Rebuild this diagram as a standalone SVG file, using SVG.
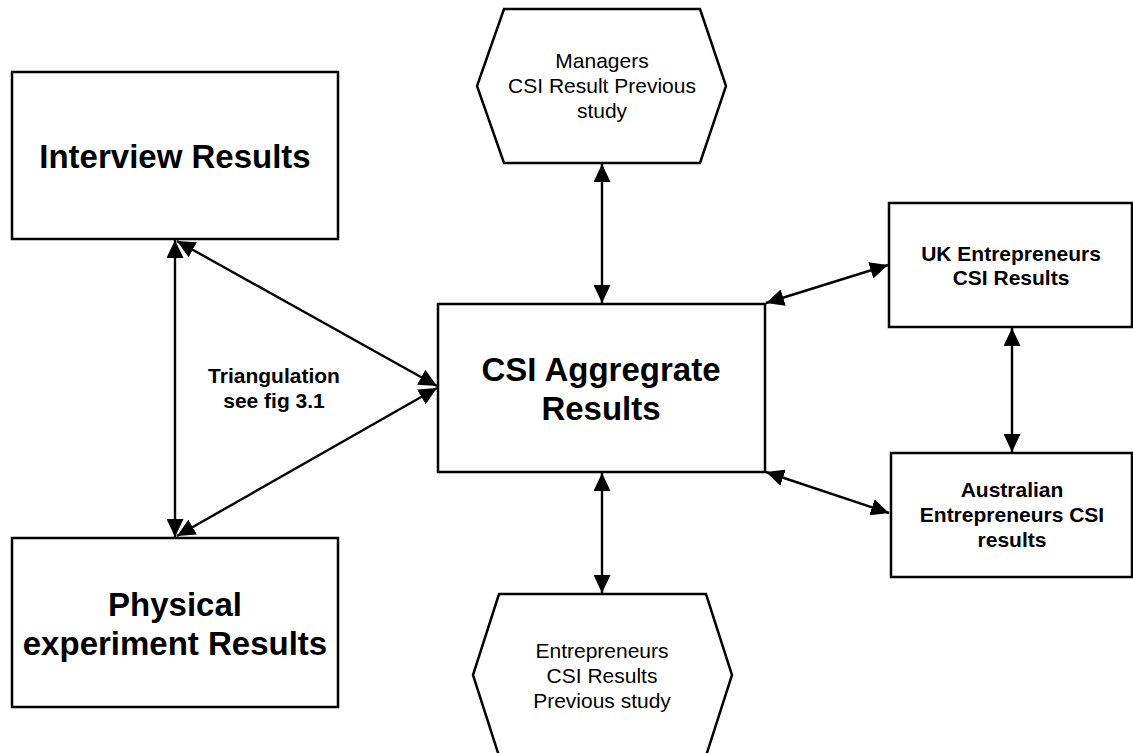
<svg xmlns="http://www.w3.org/2000/svg" width="1133" height="753" viewBox="0 0 1133 753">
  <style>
    .box { fill: #ffffff; stroke: #000000; stroke-width: 2.5; }
    .edge { fill: none; stroke: #000000; stroke-width: 2.4; marker-start: url(#head); marker-end: url(#head); }
    .big { font-family: "Liberation Sans", Arial, sans-serif; font-weight: bold; font-size: 33px; text-anchor: middle; fill: #000; }
    .mid { font-family: "Liberation Sans", Arial, sans-serif; font-weight: bold; font-size: 21px; text-anchor: middle; fill: #000; }
    .plain { font-family: "Liberation Sans", Arial, sans-serif; font-size: 21px; text-anchor: middle; fill: #000; }
  </style>
  <defs>
    <marker id="head" viewBox="0 0 18 17" refX="18" refY="8.5" markerWidth="18" markerHeight="17" markerUnits="userSpaceOnUse" orient="auto-start-reverse">
      <path d="M0,0 L18,8.5 L0,17 Z" fill="#000"/>
    </marker>
  </defs>
  <rect width="1133" height="753" fill="#ffffff"/>

  <g id="connectors">
    <line class="edge" x1="175" y1="240" x2="175" y2="537"/>
    <line class="edge" x1="177" y1="241" x2="437" y2="386"/>
    <line class="edge" x1="177" y1="536" x2="437" y2="388"/>
    <line class="edge" x1="602" y1="164" x2="602" y2="303"/>
    <line class="edge" x1="602" y1="473" x2="602" y2="593"/>
    <line class="edge" x1="766" y1="303" x2="888" y2="265"/>
    <line class="edge" x1="766" y1="472" x2="889" y2="513"/>
    <line class="edge" x1="1012" y1="328" x2="1012" y2="452"/>
  </g>

  <g id="interview">
    <rect class="box" x="12" y="72" width="326" height="167"/>
    <text class="big" x="175" y="168">Interview Results</text>
  </g>

  <g id="physical">
    <rect class="box" x="12" y="538" width="326" height="169"/>
    <text class="big" x="175" y="616">Physical</text>
    <text class="big" x="175" y="655">experiment Results</text>
  </g>

  <g id="triangulation">
    <text class="mid" x="274" y="383">Triangulation</text>
    <text class="mid" x="274" y="408">see fig 3.1</text>
  </g>

  <g id="aggregate">
    <rect class="box" x="438" y="304" width="327" height="168"/>
    <text class="big" x="601" y="381">CSI Aggregrate</text>
    <text class="big" x="601" y="420">Results</text>
  </g>

  <g id="managers">
    <polygon class="box" points="504,9 700,9 726,86 700,163 504,163 477,86"/>
    <text class="plain" x="602" y="68">Managers</text>
    <text class="plain" x="602" y="93">CSI Result Previous</text>
    <text class="plain" x="602" y="118">study</text>
  </g>

  <g id="entrepreneurs">
    <polygon class="box" points="499,594 706,594 732,675 706,756 499,756 473,675"/>
    <text class="plain" x="602" y="658">Entrepreneurs</text>
    <text class="plain" x="602" y="683">CSI Results</text>
    <text class="plain" x="602" y="708">Previous study</text>
  </g>

  <g id="uk">
    <rect class="box" x="889" y="203" width="243" height="124"/>
    <text class="mid" x="1011" y="261">UK Entrepreneurs</text>
    <text class="mid" x="1011" y="285">CSI Results</text>
  </g>

  <g id="australian">
    <rect class="box" x="891" y="453" width="241" height="124"/>
    <text class="mid" x="1012" y="497">Australian</text>
    <text class="mid" x="1012" y="522">Entrepreneurs CSI</text>
    <text class="mid" x="1012" y="547">results</text>
  </g>
</svg>
